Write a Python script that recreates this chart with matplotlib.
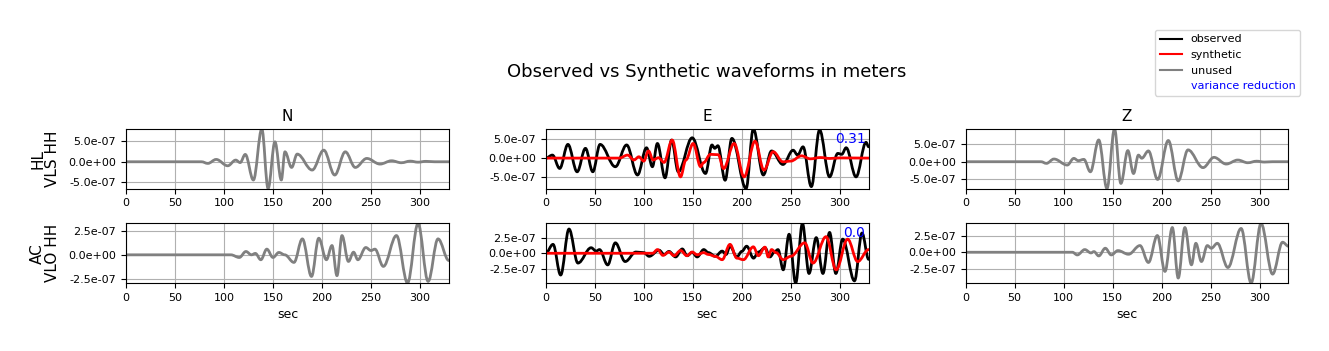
import matplotlib
matplotlib.use("Agg")
import matplotlib.pyplot as plt
from matplotlib.path import Path
from matplotlib.patches import PathPatch
from matplotlib.lines import Line2D
from matplotlib.ticker import MultipleLocator, FormatStrFormatter

# ---------------- data (amplitudes in units of 1e-7 m, time in s) ----------------
AMP_UNIT = 1e-7
T_END = 329.5
components = ["N", "E", "Z"]
stations = ["HL\nVLS HH", "AC\nVLO HH"]
vr_values = ["0.31", "0.0"]
legend_labels = ["observed", "synthetic", "unused", "variance reduction"]

# Station HL VLS HH
vls_n_t = [0, 77, 83.5, 92, 103.8, 112, 116.5, 121.7, 130, 138.6, 145, 152, 158.5, 162.2, 169,
           174.7, 190, 201.8, 213, 223.8, 234, 245.7, 259.2, 271, 281, 290, 298, 306, 315, T_END]
vls_n_a = [0, 0, -0.4, 0.56, -0.97, 0.4, -0.2, 1.77, -4.4, 7.9, -6.45, 4.8, -4.4, 2.4, -1.37,
           1.85, -2.0, 2.8, -3.2, 2.4, -1.37, 0.8, -0.56, 0.24, -0.24, 0.15, -0.1, 0.1, 0, 0]

vls_e_obs_t = [0, 6.8, 14.2, 22.6, 32, 40.5, 48, 55.4, 71, 82.5, 93.6, 102.8, 108.8, 113.9,
               121.7, 128.4, 135.2, 149.4, 163, 169.6, 172.4, 175.6, 183, 189.9, 204.4, 211.8,
               222, 230.4, 242, 252.4, 257, 262.5, 271, 279.4, 289.6, 298, 302, 306.5, 316.6,
               326.8, T_END]
vls_e_obs_a = [0, 0.8, -2.76, 3.65, -3.65, 2.6, -3.65, 3.65, -2.3, 3.5, -4.5, 2.75, -2.3, 3.9,
               -5.25, 4.8, -3.65, 5.4, -4.1, 3.5, 2.6, 3.3, -5.9, 5.25, -8.1, 7.75,
               -4.5, 1.9, -1.7, 2.1, 0.8, 3.0, -7.6, 7.5, -5.0, 1.25, 1.0, 2.75, -5.0,
               4.2, 3.0]

vls_e_syn_t = [0, 75, 83.5, 90, 95, 100, 104.8, 109.5, 115, 120.7, 129, 137.5, 143, 150.4,
               158, 161, 168, 176, 181.4, 192.2, 202.4, 213.5, 222.6, 232, 242, 250, 261,
               270, 280, 290, 300, T_END]
vls_e_syn_a = [0, 0, 0.8, -0.5, 0.35, -0.8, 1.9, -0.5, 0.1, -1.15, 4.8, -5.0, -0.5, 3.9,
               -2.3, -1.2, 1.0, 0.9, -2.8, 3.9, -5.0, 4.5, -3.2, 1.7, -1.0, -0.8, 0.6,
               -0.2, 0.15, -0.1, 0.05, 0]

vls_z_t = [0, 77, 82.5, 90.2, 103.8, 110.5, 115, 120.7, 127.4, 135.9, 144.3, 152, 158.5, 165.6,
           171.4, 176.4, 179.8, 186.6, 196, 206.9, 217, 227, 242.3, 253.5, 266, 277.8, 288,
           297, 305, 313, T_END]
vls_z_a = [0, 0, -0.48, 0.77, -0.96, 0.96, 0.3, 0.67, -2.9, 6.25, -7.7, 9.4, -6.25, 3.2,
           -3.4, 1.9, 1.0, 3.1, -5.1, 6.1, -5.5, 3.4, -1.7, 1.25, -0.67, 0.48, -0.3,
           0.15, -0.1, 0, 0]

# Station AC VLO HH
vlo_n_t = [0, 107, 115.6, 122.4, 128, 132, 137.6, 143.7, 150, 156, 162, 171.4, 180, 189.3,
           196.7, 204.5, 210.2, 215.3, 220.4, 227, 232.2, 236.6, 244.7, 250, 254, 262.6, 276,
           287.3, 298, 308.3, 318.4, T_END]
vlo_n_a = [0, 0, -0.28, 0.35, 0.0, 0.15, -0.52, 0.6, -0.28, 0.25, 0.0, -0.8, 1.68, -2.28,
           1.75, -0.52, 0.98, -2.2, 2.03, -0.7, 0.28, -0.52, 0.77, 0.45, 0.6, -1.22, 2.03,
           -2.97, 3.3, -2.8, 1.68, -0.6]

vlo_e_obs_t = [0, 7.4, 15.2, 23.7, 32.8, 46.3, 51.4, 54.8, 63.2, 71, 81, 92, 100, 105.5,
               115.6, 120.7, 125.7, 132.5, 139.3, 144.3, 149.4, 154.5, 161.2, 166, 173, 180,
               184, 188, 195, 200, 205, 212, 217, 223.7, 228.7, 233.8, 237, 242.3, 248.3,
               255, 261.9, 268.6, 276, 282.8, 289.6, 296, 303, 315, 322.7, T_END]
vlo_e_obs_a = [0, 1.45, -3.55, 3.95, -1.6, 0.9, 0.35, 0.6, -1.9, 1.7, -1.35, 0.2, 0.1, -0.5,
               0.5, -0.2, 0.3, -0.6, 0.7, -0.4, 0.15, -0.6, 0.6, 0.1, -0.5, 0.35,
               -0.2, 1.15, -0.6, 0.3, 1.15, -0.8, 0.2, 0.9, -0.6, 0.3, 0.6, -2.7, 3.1,
               -4.85, 4.85, -3.3, 2.55, -3.3, 3.4, -3.3, 2.3, -4.5, 3.3, -1.0]

vlo_e_syn_t = [0, 109, 114, 119.6, 125.7, 130.8, 137.6, 144, 149.4, 154.5, 161, 166, 173,
               180, 188, 195, 201.7, 211.8, 217, 223.7, 227, 230.4, 235, 242.3, 250, 264.2,
               272.7, 286, 296.3, 308, 318.3, T_END]
vlo_e_syn_a = [0, 0, 0.6, -0.35, 0.2, -0.4, 0.45, -0.4, 0.2, -0.25, 0.1, -0.2, -0.5,
               -1.05, 1.45, -0.8, -1.05, 1.05, -0.4, 1.0, -0.6, 0.6, 0.1, -1.05, -0.5, 1.7,
               -1.6, 2.7, -2.7, 2.3, -1.35, 0.6]

vlo_z_t = [0, 109, 114, 121.7, 128, 131, 135.9, 142.6, 148.7, 155.5, 166.3, 178, 186.6, 195.7,
           203.5, 211, 217, 223.8, 230.5, 235, 240.7, 246.7, 250.8, 256.9, 267.7, 281.2,
           291.4, 301.5, 313.3, 323.5, T_END]
vlo_z_a = [0, 0, -0.4, 0.4, -0.1, 0.1, -0.55, 0.6, -0.4, 0.25, -0.3, 1.0, -1.53, 2.5,
           -2.87, 3.7, -3.86, 3.7, -1.88, 1.34, -1.39, 1.0, 0.6, 1.34, -2.28, 3.56,
           -4.6, 4.3, -3.27, 1.5, 0.9]

# panel contents: (row, col) -> list of (times, amps, kind)
panels = {
    (0, 0): [(vls_n_t, vls_n_a, "unused")],
    (0, 1): [(vls_e_obs_t, vls_e_obs_a, "observed"), (vls_e_syn_t, vls_e_syn_a, "synthetic")],
    (0, 2): [(vls_z_t, vls_z_a, "unused")],
    (1, 0): [(vlo_n_t, vlo_n_a, "unused")],
    (1, 1): [(vlo_e_obs_t, vlo_e_obs_a, "observed"), (vlo_e_syn_t, vlo_e_syn_a, "synthetic")],
    (1, 2): [(vlo_z_t, vlo_z_a, "unused")],
}
row_tick_step = [5e-7, 2.5e-7]

# ---------------- styling ----------------
COLORS = {"observed": "black", "synthetic": "red", "unused": "gray"}
LW = 2.0


def wave_path(t, a):
    """Smooth curve through the read extrema (cubic Bezier, flat tangents at each knot)."""
    k = 0.364
    verts = [(t[0], a[0] * AMP_UNIT)]
    codes = [Path.MOVETO]
    for i in range(1, len(t)):
        t0, a0, t1, a1 = t[i - 1], a[i - 1] * AMP_UNIT, t[i], a[i] * AMP_UNIT
        dt = t1 - t0
        verts += [(t0 + k * dt, a0), (t1 - k * dt, a1), (t1, a1)]
        codes += [Path.CURVE4] * 3
    return Path(verts, codes)


fig, axes = plt.subplots(2, 3, figsize=(13.29, 3.51), dpi=100)
fig.subplots_adjust(left=0.0948, right=0.9695, bottom=0.1937, top=0.6325,
                    wspace=0.3, hspace=0.588)

for (r, c), traces in panels.items():
    ax = axes[r, c]
    ax.grid(True, color="#b0b0b0", lw=0.8)
    ax.set_axisbelow(True)
    lo, hi = 0.0, 0.0
    for t, a, kind in traces:
        p = PathPatch(wave_path(t, a), facecolor="none", edgecolor=COLORS[kind],
                      lw=LW, joinstyle="round", capstyle="round", zorder=2)
        ax.add_patch(p)
        lo = min(lo, min(a) * AMP_UNIT)
        hi = max(hi, max(a) * AMP_UNIT)
    ax.set_xlim(0, T_END)
    ax.set_ylim(lo, hi)
    ax.xaxis.set_major_locator(MultipleLocator(50))
    ax.yaxis.set_major_locator(MultipleLocator(row_tick_step[r]))
    ax.yaxis.set_major_formatter(FormatStrFormatter("%.1e"))
    ax.tick_params(labelsize=8)
    if r == 0:
        ax.set_title(components[c], fontsize=11)
    if r == 1:
        ax.set_xlabel("sec", fontsize=9)
    if c == 0:
        ax.set_ylabel(stations[r], fontsize=11, linespacing=1.0, labelpad=6)
    if c == 1:
        ax.text(0.99, 0.765, vr_values[r], transform=ax.transAxes, ha="right",
                va="baseline", color="blue", fontsize=10)

fig.suptitle("Observed vs Synthetic waveforms in meters", fontsize=13,
             x=0.532, y=0.795, va="center")

handles = [Line2D([], [], color="black", lw=1.5),
           Line2D([], [], color="red", lw=1.5),
           Line2D([], [], color="gray", lw=1.5),
           Line2D([], [], color="none")]
leg = fig.legend(handles, legend_labels, loc="upper right",
                 bbox_to_anchor=(1300 / 1329, 1 - 30 / 351), borderaxespad=0,
                 fontsize=8)
leg.get_texts()[3].set_color("blue")

fig.savefig("out.png", dpi=100)
